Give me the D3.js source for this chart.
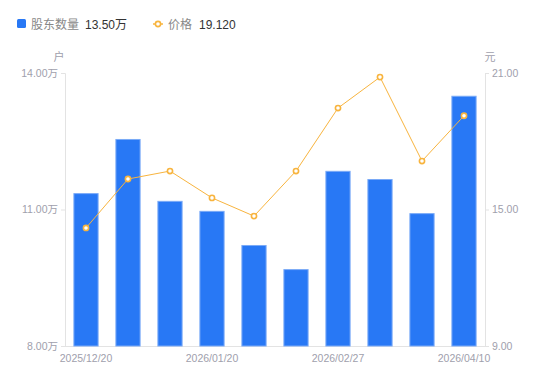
<!DOCTYPE html>
<html><head><meta charset="utf-8">
<script src="https://cdn.jsdelivr.net/npm/d3@7/dist/d3.min.js"></script>
<style>body{margin:0;background:#fff;}svg{display:block;font-family:"Noto Sans CJK SC","Noto Sans",sans-serif;}</style>
</head><body><svg id="c" width="550" height="381"></svg>
<script>
const categories = ["2025/12/20","2025/12/31","2026/01/09","2026/01/20","2026/01/30","2026/02/13","2026/02/27","2026/03/13","2026/03/31","2026/04/10"];
const holders = [11.36,12.55,11.19,10.97,10.22,9.69,11.85,11.67,10.92,13.50];
const prices = [14.19,16.34,16.69,15.51,14.71,16.69,19.46,20.82,17.13,19.12];
const leftTicks = [8,11,14];
const rightTicks = [9,15,21];
const xTickLabels = ["2025/12/20","2026/01/20","2026/02/27","2026/04/10"];

const svg = d3.select("#c");
const L = 65, R = 485, T = 73, B = 346;
const x = d3.scaleBand().domain(categories).range([L, R]).paddingInner(0.4).paddingOuter(0.2);
const yL = d3.scaleLinear().domain([8, 14]).range([B, T]);
const yR = d3.scaleLinear().domain([9, 21]).range([B, T]);
const axisColor = "#e3e3e3", labelColor = "#a0a0ac";
const numFont = "'Liberation Sans', Arial, 'Noto Sans CJK SC', sans-serif";

// left axis
const gl = svg.append("g").attr("transform", `translate(${L},0)`)
  .call(d3.axisLeft(yL).tickValues(leftTicks).tickSize(4).tickPadding(3).tickFormat(d => d3.format(".2f")(d) + "万"));
// right axis
const gr = svg.append("g").attr("transform", `translate(${R},0)`)
  .call(d3.axisRight(yR).tickValues(rightTicks).tickSize(4).tickPadding(3).tickFormat(d3.format(".2f")));
// bottom axis
const gb = svg.append("g").attr("transform", `translate(0,${B})`)
  .call(d3.axisBottom(x).tickValues(xTickLabels).tickSize(0).tickPadding(9));
[gl, gr, gb].forEach(g => {
  g.selectAll(".domain").attr("stroke", axisColor);
  g.selectAll(".tick line").attr("stroke", axisColor);
  g.selectAll("text").attr("fill", labelColor).style("font-size", "10.5px").style("font-family", numFont);
});
gb.select(".domain").attr("d", `M${L},0.5H${R}`);

// axis titles
svg.append("text").attr("x", 59).attr("y", 61).attr("text-anchor", "middle").attr("fill", labelColor).style("font-size", "11px").text("户");
svg.append("text").attr("x", 490).attr("y", 61).attr("text-anchor", "middle").attr("fill", labelColor).style("font-size", "11px").text("元");

// bars
svg.append("g").selectAll("rect").data(holders).join("rect")
  .attr("x", (d, i) => x(categories[i]) + 0.5)
  .attr("y", d => yL(d) + 0.5)
  .attr("width", x.bandwidth() - 1)
  .attr("height", d => B - yL(d) - 0.5)
  .attr("fill", "#2878f5")
  .attr("stroke", "#7aaaf7").attr("stroke-width", 1);

// line
const line = d3.line().x((d, i) => x(categories[i]) + x.bandwidth() / 2).y(d => yR(d));
svg.append("path").datum(prices).attr("d", line).attr("fill", "none").attr("stroke", "#f8b43e").attr("stroke-width", 1);
svg.append("g").selectAll("circle").data(prices).join("circle")
  .attr("cx", (d, i) => x(categories[i]) + x.bandwidth() / 2)
  .attr("cy", d => yR(d)).attr("r", 2.6)
  .attr("fill", "#fff").attr("stroke", "#f8b43e").attr("stroke-width", 1.6);

// legend
const lg = svg.append("g");
lg.append("rect").attr("x", 17).attr("y", 19).attr("width", 9).attr("height", 9).attr("rx", 1.5).attr("fill", "#2878f5");
lg.append("text").attr("x", 31).attr("y", 28.5).attr("fill", "#888").style("font-size", "12px").text("股东数量");
lg.append("text").attr("x", 85).attr("y", 28.5).attr("fill", "#333").style("font-size", "12px").style("font-family", numFont).text(d3.format(".2f")(holders[holders.length - 1]) + "万");
lg.append("line").attr("x1", 153).attr("x2", 163).attr("y1", 24).attr("y2", 24).attr("stroke", "#f8b43e").attr("stroke-width", 1.5);
lg.append("circle").attr("cx", 158).attr("cy", 24).attr("r", 2.6).attr("fill", "#fff").attr("stroke", "#f8b43e").attr("stroke-width", 1.6);
lg.append("text").attr("x", 168).attr("y", 28.5).attr("fill", "#888").style("font-size", "12px").text("价格");
lg.append("text").attr("x", 199).attr("y", 28.5).attr("fill", "#333").style("font-size", "12px").style("font-family", numFont).text(d3.format(".3f")(prices[prices.length - 1]));
</script></body></html>
